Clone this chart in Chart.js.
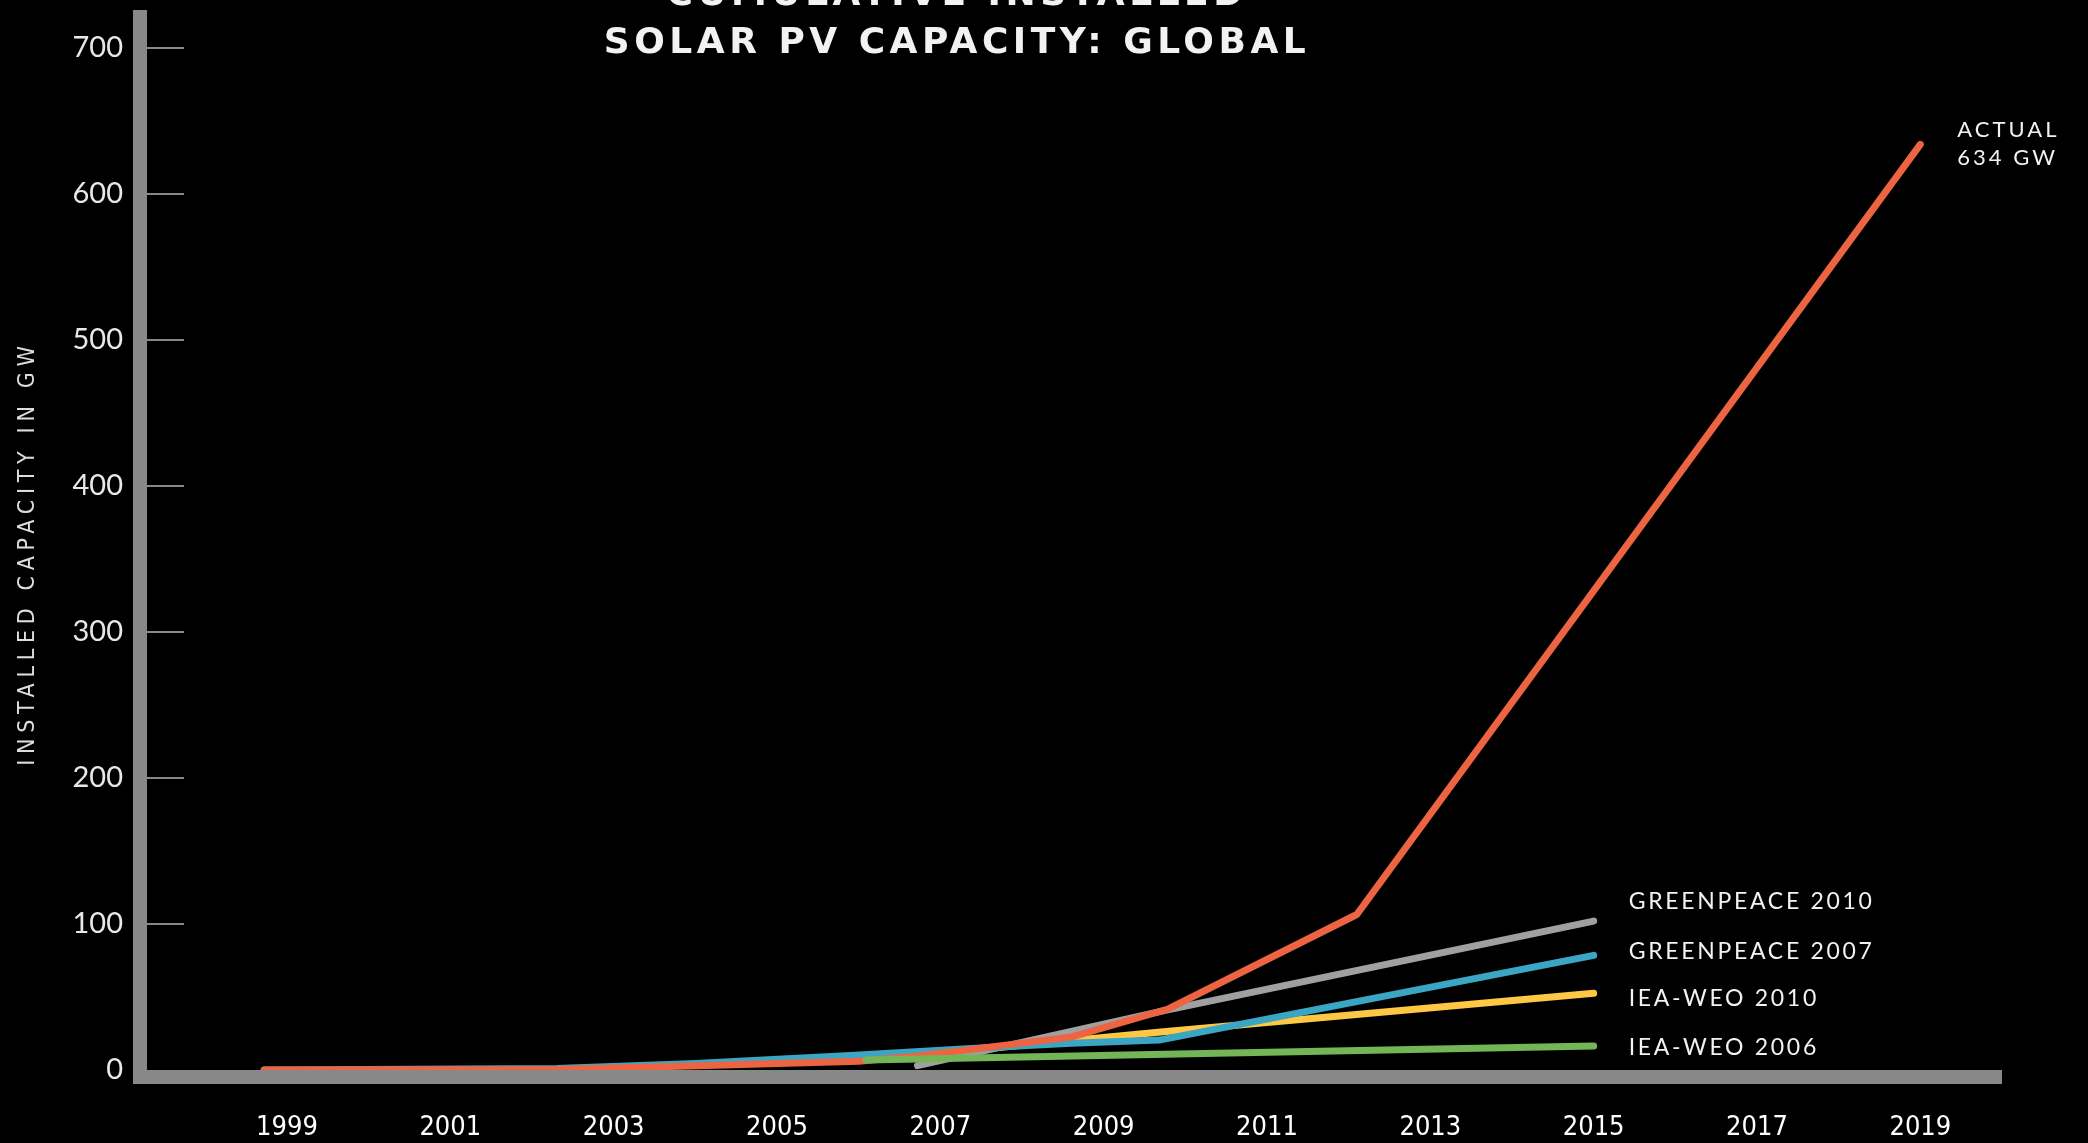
<!DOCTYPE html>
<html>
<head>
<meta charset="utf-8">
<title>Cumulative Installed Solar PV Capacity: Global</title>
<script src="https://cdn.jsdelivr.net/npm/chart.js@4.4.1/dist/chart.umd.min.js"></script>
<style>
    html, body { margin: 0; padding: 0; background: #000; overflow: hidden; }
    #wrap { position: relative; width: 2088px; height: 1143px; }
</style>
</head>
<body>
<div id="wrap"><canvas id="solarChart"></canvas></div>
<script>
// Values (x = year, y = GW)
const yearTicks = [1999, 2001, 2003, 2005, 2007, 2009, 2011, 2013, 2015, 2017, 2019];

const actualYears = [1998.72, 2002.3, 2003.8, 2006.0, 2006.7, 2007.65, 2008.6, 2009.78, 2012.1, 2019.0];
const actualGW    = [0, 0.4, 2.6, 6, 9.5, 16, 22.5, 41.6, 106.5, 634];

const gp2007Years = [1998.72, 2002.3, 2004.0, 2005.9, 2007.65, 2008.6, 2009.68, 2015];
const gp2007GW    = [0, 1, 4.5, 9.9, 15.5, 18.4, 20.5, 78.5];

const gp2010Years = [2006.72, 2009.77, 2015];
const gp2010GW    = [3, 41, 102];

const iea2010Years = [2007.65, 2009.7, 2015];
const iea2010GW    = [15, 26, 52.5];

const iea2006Years = [2006.09, 2015];
const iea2006GW    = [6.8, 16.4];

const seriesNames = ['ACTUAL', 'GREENPEACE 2010', 'GREENPEACE 2007', 'IEA-WEO 2010', 'IEA-WEO 2006'];
const titleLines = ['CUMULATIVE INSTALLED', 'SOLAR PV CAPACITY: GLOBAL'];
const yAxisTitle = 'INSTALLED CAPACITY IN GW';

function toPoints(xs, ys) {
    return xs.map((x, i) => ({ x: x, y: ys[i] }));
}

const CONDENSED = '"Liberation Sans Narrow", "DejaVu Sans Condensed", "DejaVu Sans", sans-serif';

function lineSet(label, xs, ys, color, order) {
    return {
        label: label,
        data: toPoints(xs, ys),
        borderColor: color,
        borderWidth: 7,
        borderCapStyle: 'round',
        borderJoinStyle: 'round',
        pointRadius: 0,
        tension: 0,
        fill: false,
        order: order
    };
}

// axis bars, tick marks, title and series labels
const decorPlugin = {
    id: 'decor',
    afterDatasetsDraw(chart) {
        const { ctx, chartArea, scales } = chart;
        const xs = scales.x, ys = scales.y;
        ctx.save();

        // thick grey axis bars on top of the lines
        ctx.fillStyle = '#888888';
        ctx.fillRect(chartArea.left - 14, chartArea.top, 14, chartArea.bottom + 14 - chartArea.top);
        ctx.fillRect(chartArea.left - 14, chartArea.bottom, chartArea.right - chartArea.left + 14, 14);

        // short tick marks to the right of the y bar (none at zero)
        ys.ticks.forEach(t => {
            if (t.value === 0) return;
            const py = Math.round(ys.getPixelForValue(t.value));
            ctx.fillRect(chartArea.left, py - 1, 37, 2);
        });

        ctx.fillStyle = '#f2f2f2';

        // title (first line is cut off at the top)
        ctx.font = 'bold 36px "DejaVu Sans", sans-serif';
        ctx.letterSpacing = '4.5px';
        ctx.textAlign = 'center';
        ctx.textBaseline = 'alphabetic';
        ctx.fillText(titleLines[0], 957, 5);
        ctx.fillText(titleLines[1], 957, 53);

        // series labels
        ctx.font = '23px Lato, sans-serif';
        ctx.letterSpacing = '2.7px';
        ctx.textAlign = 'left';
        ctx.textBaseline = 'middle';
        const endX = xs.getPixelForValue(2015) + 35;
        const ends = [
            [gp2010GW, -19],
            [gp2007GW, -4],
            [iea2010GW, 5],
            [iea2006GW, 2]
        ];
        ends.forEach((e, i) => {
            const vals = e[0];
            const py = ys.getPixelForValue(vals[vals.length - 1]) + e[1];
            ctx.fillText(seriesNames[i + 1], endX, py);
        });

        // actual label
        ctx.font = '22px Lato, sans-serif';
        ctx.letterSpacing = '3px';
        ctx.textBaseline = 'alphabetic';
        const ax = xs.getPixelForValue(actualYears[actualYears.length - 1]) + 37;
        const ay = ys.getPixelForValue(actualGW[actualGW.length - 1]);
        ctx.fillText(seriesNames[0], ax, ay - 7);
        ctx.fillText(actualGW[actualGW.length - 1] + ' GW', ax, ay + 21);

        // y axis title
        ctx.font = '23px ' + CONDENSED;
        ctx.letterSpacing = '5.7px';
        ctx.fillStyle = '#dddddd';
        ctx.translate(28, 553);
        ctx.rotate(-Math.PI / 2);
        ctx.textAlign = 'center';
        ctx.textBaseline = 'middle';
        ctx.fillText(yAxisTitle, 0, 0);

        ctx.restore();
    }
};

const chart = new Chart(document.getElementById('solarChart'), {
    type: 'line',
    data: {
        datasets: [
            lineSet(seriesNames[4], iea2006Years, iea2006GW, '#73b557', 0),
            lineSet(seriesNames[0], actualYears, actualGW, '#ec6442', 1),
            lineSet(seriesNames[2], gp2007Years, gp2007GW, '#3aa6c4', 2),
            lineSet(seriesNames[1], gp2010Years, gp2010GW, '#a0a0a0', 3),
            lineSet(seriesNames[3], iea2010Years, iea2010GW, '#fec844', 4)
        ]
    },
    options: {
        responsive: true,
        maintainAspectRatio: false,
        animation: false,
        layout: { padding: { top: 10, right: 86, bottom: 0, left: 0 } },
        plugins: {
            legend: { display: false },
            tooltip: { enabled: false },
            title: { display: false }
        },
        scales: {
            x: {
                type: 'linear',
                min: 1997.286,
                max: 2020.0,
                grid: { display: false, drawTicks: false },
                border: { display: false },
                ticks: {
                    color: '#ffffff',
                    padding: 42,
                    font: { family: CONDENSED, size: 27 },
                    callback: v => String(v)
                },
                afterBuildTicks: scale => {
                    scale.ticks = yearTicks.map(v => ({ value: v }));
                },
                afterFit: scale => {
                    scale.height = 73;
                    scale.paddingLeft = 0;
                    scale.paddingRight = 0;
                }
            },
            y: {
                min: 0,
                max: 726,
                grid: { display: false, drawTicks: false },
                border: { display: false },
                ticks: {
                    stepSize: 100,
                    includeBounds: false,
                    color: '#e8e8e8',
                    padding: 24,
                    font: { family: 'Lato, sans-serif', size: 29 }
                },
                afterFit: scale => {
                    scale.width = 147;
                    scale.paddingTop = 0;
                    scale.paddingBottom = 0;
                }
            }
        }
    },
    plugins: [decorPlugin]
});
</script>
</body>
</html>
